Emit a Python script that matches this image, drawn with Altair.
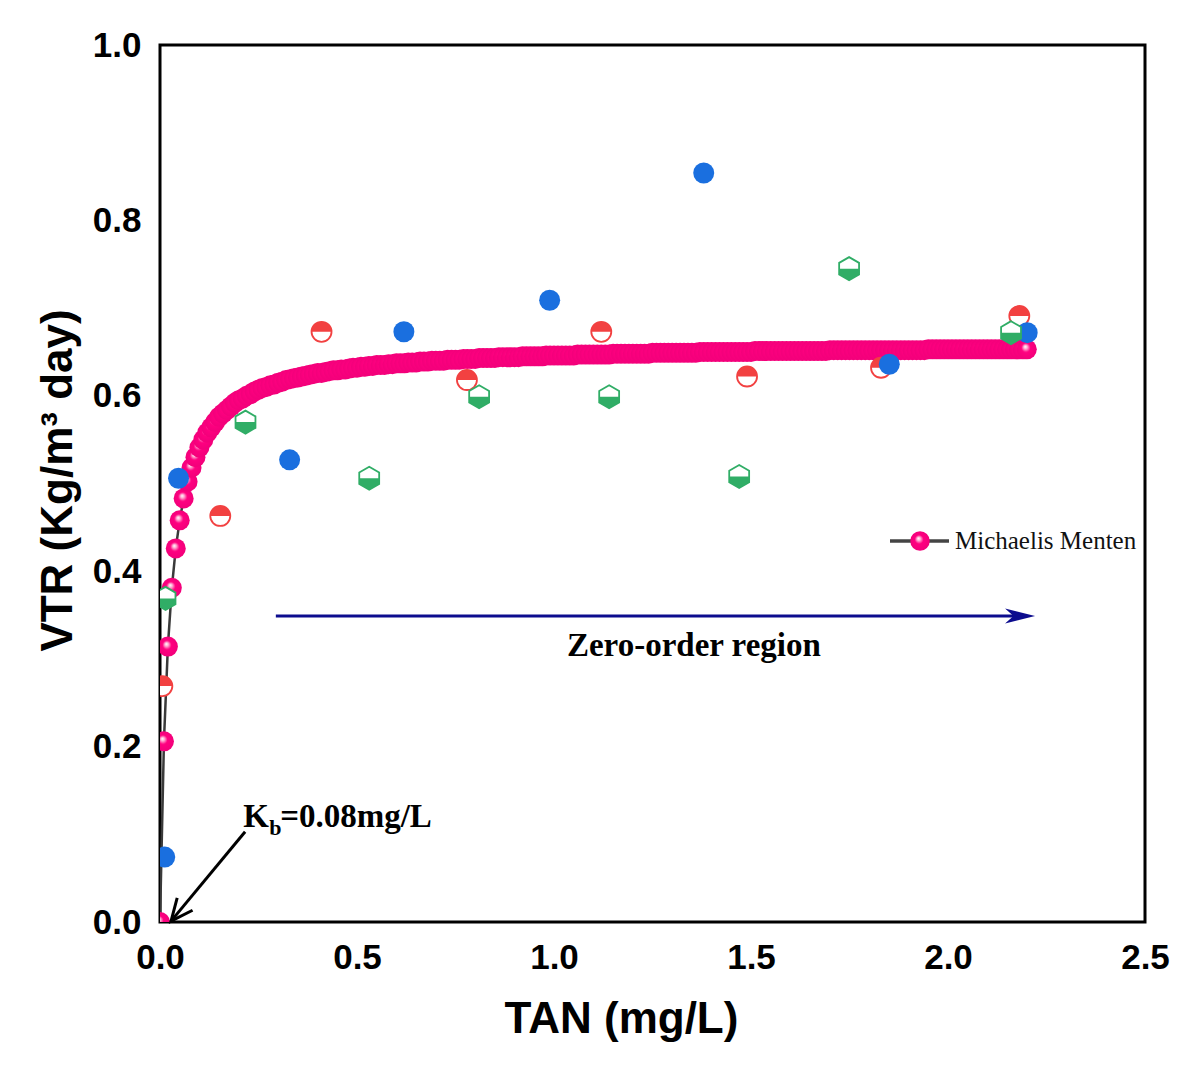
import altair as alt
import pandas as pd

# ---------------- data ----------------
# Michaelis-Menten fitted curve (TAN mg/L, VTR)
x_curve = [
    0.00, 0.01, 0.02, 0.03, 0.04, 0.05, 0.06, 0.07, 0.08, 0.09,
    0.10, 0.11, 0.12, 0.13, 0.14, 0.15, 0.16, 0.17, 0.18, 0.19,
    0.20, 0.21, 0.22, 0.23, 0.24, 0.25, 0.26, 0.27, 0.28, 0.29,
    0.30, 0.31, 0.32, 0.33, 0.34, 0.35, 0.36, 0.37, 0.38, 0.39,
    0.40, 0.41, 0.42, 0.43, 0.44, 0.45, 0.46, 0.47, 0.48, 0.49,
    0.50, 0.51, 0.52, 0.53, 0.54, 0.55, 0.56, 0.57, 0.58, 0.59,
    0.60, 0.61, 0.62, 0.63, 0.64, 0.65, 0.66, 0.67, 0.68, 0.69,
    0.70, 0.71, 0.72, 0.73, 0.74, 0.75, 0.76, 0.77, 0.78, 0.79,
    0.80, 0.81, 0.82, 0.83, 0.84, 0.85, 0.86, 0.87, 0.88, 0.89,
    0.90, 0.91, 0.92, 0.93, 0.94, 0.95, 0.96, 0.97, 0.98, 0.99,
    1.00, 1.01, 1.02, 1.03, 1.04, 1.05, 1.06, 1.07, 1.08, 1.09,
    1.10, 1.11, 1.12, 1.13, 1.14, 1.15, 1.16, 1.17, 1.18, 1.19,
    1.20, 1.21, 1.22, 1.23, 1.24, 1.25, 1.26, 1.27, 1.28, 1.29,
    1.30, 1.31, 1.32, 1.33, 1.34, 1.35, 1.36, 1.37, 1.38, 1.39,
    1.40, 1.41, 1.42, 1.43, 1.44, 1.45, 1.46, 1.47, 1.48, 1.49,
    1.50, 1.51, 1.52, 1.53, 1.54, 1.55, 1.56, 1.57, 1.58, 1.59,
    1.60, 1.61, 1.62, 1.63, 1.64, 1.65, 1.66, 1.67, 1.68, 1.69,
    1.70, 1.71, 1.72, 1.73, 1.74, 1.75, 1.76, 1.77, 1.78, 1.79,
    1.80, 1.81, 1.82, 1.83, 1.84, 1.85, 1.86, 1.87, 1.88, 1.89,
    1.90, 1.91, 1.92, 1.93, 1.94, 1.95, 1.96, 1.97, 1.98, 1.99,
    2.00, 2.01, 2.02, 2.03, 2.04, 2.05, 2.06, 2.07, 2.08, 2.09,
    2.10, 2.11, 2.12, 2.13, 2.14, 2.15, 2.16, 2.17, 2.18, 2.19,
    2.20,
]
y_curve = [
    0.000, 0.206, 0.314, 0.381, 0.426, 0.458, 0.483, 0.502, 0.518, 0.530,
    0.541, 0.550, 0.558, 0.564, 0.570, 0.576, 0.580, 0.584, 0.588, 0.592,
    0.595, 0.597, 0.600, 0.602, 0.605, 0.607, 0.609, 0.610, 0.612, 0.613,
    0.615, 0.616, 0.618, 0.619, 0.620, 0.621, 0.622, 0.623, 0.624, 0.625,
    0.626, 0.626, 0.627, 0.628, 0.629, 0.629, 0.630, 0.630, 0.631, 0.632,
    0.632, 0.633, 0.633, 0.634, 0.634, 0.635, 0.635, 0.635, 0.636, 0.636,
    0.637, 0.637, 0.637, 0.638, 0.638, 0.638, 0.639, 0.639, 0.639, 0.640,
    0.640, 0.640, 0.640, 0.641, 0.641, 0.641, 0.641, 0.642, 0.642, 0.642,
    0.642, 0.643, 0.643, 0.643, 0.643, 0.643, 0.644, 0.644, 0.644, 0.644,
    0.644, 0.644, 0.645, 0.645, 0.645, 0.645, 0.645, 0.645, 0.646, 0.646,
    0.646, 0.646, 0.646, 0.646, 0.646, 0.646, 0.647, 0.647, 0.647, 0.647,
    0.647, 0.647, 0.647, 0.647, 0.647, 0.648, 0.648, 0.648, 0.648, 0.648,
    0.648, 0.648, 0.648, 0.648, 0.648, 0.649, 0.649, 0.649, 0.649, 0.649,
    0.649, 0.649, 0.649, 0.649, 0.649, 0.649, 0.649, 0.650, 0.650, 0.650,
    0.650, 0.650, 0.650, 0.650, 0.650, 0.650, 0.650, 0.650, 0.650, 0.650,
    0.650, 0.651, 0.651, 0.651, 0.651, 0.651, 0.651, 0.651, 0.651, 0.651,
    0.651, 0.651, 0.651, 0.651, 0.651, 0.651, 0.651, 0.651, 0.651, 0.651,
    0.652, 0.652, 0.652, 0.652, 0.652, 0.652, 0.652, 0.652, 0.652, 0.652,
    0.652, 0.652, 0.652, 0.652, 0.652, 0.652, 0.652, 0.652, 0.652, 0.652,
    0.652, 0.652, 0.652, 0.652, 0.652, 0.653, 0.653, 0.653, 0.653, 0.653,
    0.653, 0.653, 0.653, 0.653, 0.653, 0.653, 0.653, 0.653, 0.653, 0.653,
    0.653, 0.653, 0.653, 0.653, 0.653, 0.653, 0.653, 0.653, 0.653, 0.653,
    0.653,
]

# measured series
blue_x = [0.012, 0.047, 0.329, 0.619, 0.989, 1.380, 1.851, 2.201]
blue_y = [0.074, 0.506, 0.527, 0.673, 0.709, 0.854, 0.636, 0.672]

red_x = [0.006, 0.153, 0.410, 0.779, 1.120, 1.490, 1.830, 2.181]
red_y = [0.269, 0.463, 0.673, 0.618, 0.673, 0.622, 0.632, 0.691]

green_x = [0.014, 0.217, 0.531, 0.810, 1.140, 1.470, 1.749, 2.160]
green_y = [0.369, 0.570, 0.506, 0.599, 0.599, 0.508, 0.745, 0.672]

x_ticks = [0.0, 0.5, 1.0, 1.5, 2.0, 2.5]
y_ticks = [0.0, 0.2, 0.4, 0.6, 0.8, 1.0]

# annotations (data coordinates)
zero_arrow_x = [0.294, 2.221]
zero_arrow_y = [0.349, 0.349]
zero_label = "Zero-order region"
zero_label_pos = [1.355, 0.303]
kb_arrow_x = [0.216, 0.028]
kb_arrow_y = [0.103, 0.001]
kb_label_pos = [0.211, 0.108]
legend_label = "Michaelis Menten"

# ---------------- styling ----------------
PINK = "#ff0080"
BLUE = "#1a6fdf"
RED = "#f24141"
GREEN = "#30ad66"
NAVY = "#0c0c8e"
SANS = "Liberation Sans"
SERIF = "Liberation Serif"

W, H = 985, 877

TOP_HALF = "M -1 0 A 1 1 0 0 1 1 0 Z"
HEX = "M 0 -1 L 0.866 -0.5 L 0.866 0.5 L 0 1 L -0.866 0.5 L -0.866 -0.5 Z"
HEX_BOTTOM = "M -0.866 0 L 0.866 0 L 0.866 0.5 L 0 1 L -0.866 0.5 Z"
V_HEAD = "M -0.45 1 L 0 0 L 0.45 1"
ARROW_HEAD = "M 0 0 L -1 -0.25 L -0.72 0 L -1 0.25 Z"

pink_grad = alt.RadialGradient(
    gradient="radial",
    stops=[
        alt.GradientStop(offset=0, color="#ffffff"),
        alt.GradientStop(offset=0.18, color="#ffb3d6"),
        alt.GradientStop(offset=0.45, color=PINK),
        alt.GradientStop(offset=1, color="#f2007a"),
    ],
    x1=0.42, y1=0.36, r1=0, x2=0.5, y2=0.5, r2=0.5,
)

curve_df = pd.DataFrame({"x": x_curve, "y": y_curve})
blue_df = pd.DataFrame({"x": blue_x, "y": blue_y})
red_df = pd.DataFrame({"x": red_x, "y": red_y})
green_df = pd.DataFrame({"x": green_x, "y": green_y})

xscale = alt.Scale(domain=[0, 2.5], nice=False, zero=False)
yscale = alt.Scale(domain=[0, 1.0], nice=False, zero=False)

x_axis = alt.Axis(
    values=x_ticks, format=".1f", title="TAN (mg/L)",
    titleX=461, titleY=110, titleBaseline="alphabetic", titleAlign="center",
    labelPadding=18, labelFlush=False, labelOverlap=False,
)
y_axis = alt.Axis(
    values=y_ticks, format=".1f", title="VTR (Kg/m³ day)",
    titleX=-89, titleY=435, titleBaseline="alphabetic", titleAlign="center",
    labelPadding=19, labelFlush=False, labelOverlap=False,
)


def enc(chart):
    return chart.encode(
        x=alt.X("x:Q", scale=xscale, axis=x_axis),
        y=alt.Y("y:Q", scale=yscale, axis=y_axis),
    )


curve_line = enc(alt.Chart(curve_df).mark_line(color="#3a3a3a", strokeWidth=2.5, clip=True))
curve_balls = enc(alt.Chart(curve_df).mark_point(
    shape="circle", filled=True, fill=pink_grad, size=400, opacity=1, strokeWidth=0, clip=True))

red_base = enc(alt.Chart(red_df).mark_point(
    shape="circle", filled=True, fill="white", stroke=RED, strokeWidth=1.8, size=400, opacity=1, clip=True))
red_top = enc(alt.Chart(red_df).mark_point(
    shape=TOP_HALF, filled=True, fill=RED, strokeWidth=0, size=400, opacity=1, clip=True))

blue_pts = enc(alt.Chart(blue_df).mark_point(
    shape="circle", filled=True, fill=BLUE, strokeWidth=0, size=441, opacity=1, clip=True))

green_base = enc(alt.Chart(green_df).mark_point(
    shape=HEX, filled=True, fill="white", stroke=GREEN, strokeWidth=1.8, size=529, opacity=1, clip=True))
green_bot = enc(alt.Chart(green_df).mark_point(
    shape=HEX_BOTTOM, filled=True, fill=GREEN, strokeWidth=0, size=529, opacity=1, clip=True))

# zero-order region arrow
za_df = pd.DataFrame({"x": [zero_arrow_x[0]], "x2": [zero_arrow_x[1] - 0.03],
                      "y": [zero_arrow_y[0]], "y2": [zero_arrow_y[1]]})
zero_line = alt.Chart(za_df).mark_rule(color=NAVY, strokeWidth=3).encode(
    x=alt.X("x:Q", scale=xscale, axis=x_axis), x2="x2:Q",
    y=alt.Y("y:Q", scale=yscale, axis=y_axis), y2="y2:Q",
)
zh_df = pd.DataFrame({"x": [zero_arrow_x[1]], "y": [zero_arrow_y[1]]})
zero_head = enc(alt.Chart(zh_df).mark_point(
    shape=ARROW_HEAD, filled=True, fill=NAVY, strokeWidth=0, size=3600, opacity=1))
zl_df = pd.DataFrame({"x": [zero_label_pos[0]], "y": [zero_label_pos[1]], "t": [zero_label]})
zero_text = enc(alt.Chart(zl_df).mark_text(
    font=SERIF, fontWeight="bold", fontSize=33, color="black",
    align="center", baseline="alphabetic")).encode(text="t:N")

# Kb arrow and label
ka_df = pd.DataFrame({"x": [kb_arrow_x[0]], "x2": [kb_arrow_x[1]],
                      "y": [kb_arrow_y[0]], "y2": [kb_arrow_y[1]]})
kb_line = alt.Chart(ka_df).mark_rule(color="black", strokeWidth=3).encode(
    x=alt.X("x:Q", scale=xscale, axis=x_axis), x2="x2:Q",
    y=alt.Y("y:Q", scale=yscale, axis=y_axis), y2="y2:Q",
)
kh_df = pd.DataFrame({"x": [kb_arrow_x[1]], "y": [kb_arrow_y[1]]})
kb_head = enc(alt.Chart(kh_df).mark_point(
    shape=V_HEAD, filled=False, stroke="black", strokeWidth=3, size=1936, angle=219, opacity=1))
kl_df = pd.DataFrame({"x": [kb_label_pos[0]], "y": [kb_label_pos[1]],
                      "k": ["K"], "b": ["b"], "rest": ["=0.08mg/L"]})
kb_k = enc(alt.Chart(kl_df).mark_text(
    font=SERIF, fontWeight="bold", fontSize=33, color="black",
    align="left", baseline="alphabetic")).encode(text="k:N")
kb_b = enc(alt.Chart(kl_df).mark_text(
    font=SERIF, fontWeight="bold", fontSize=22, color="black",
    align="left", baseline="alphabetic", dx=26, dy=8)).encode(text="b:N")
kb_rest = enc(alt.Chart(kl_df).mark_text(
    font=SERIF, fontWeight="bold", fontSize=33, color="black",
    align="left", baseline="alphabetic", dx=37)).encode(text="rest:N")

# manual legend (pixel positions inside the plot area)
one = pd.DataFrame({"t": [legend_label]})
leg_line = alt.Chart(one).mark_rule(color="#444444", strokeWidth=3.5).encode(
    x=alt.value(730), x2=alt.value(789), y=alt.value(496))
leg_ball = alt.Chart(one).mark_point(
    shape="circle", filled=True, fill=pink_grad, size=380, opacity=1, strokeWidth=0).encode(
    x=alt.value(760), y=alt.value(496))
leg_text = alt.Chart(one).mark_text(
    font=SERIF, fontSize=25, color="#111111", align="left", baseline="alphabetic").encode(
    x=alt.value(795), y=alt.value(504), text="t:N")

chart = alt.layer(
    curve_line, curve_balls,
    red_base, red_top, blue_pts, green_base, green_bot,
    zero_line, zero_head, zero_text,
    kb_line, kb_head, kb_k, kb_b, kb_rest,
    leg_line, leg_ball, leg_text,
).properties(
    width=W, height=H,
    autosize=alt.AutoSizeParams(type="none"),
    padding={"left": 152, "top": 37, "right": 47, "bottom": 142},
    background="white",
).configure_view(
    stroke="black", strokeWidth=3, fill="white",
).configure_axis(
    domain=False, ticks=False, grid=False,
    labelFont=SANS, labelFontWeight="bold", labelFontSize=35, labelColor="black",
    titleFont=SANS, titleFontWeight="bold", titleFontSize=44, titleColor="black",
)

chart.save("out.html", embed_options={"renderer": "svg", "actions": False})
